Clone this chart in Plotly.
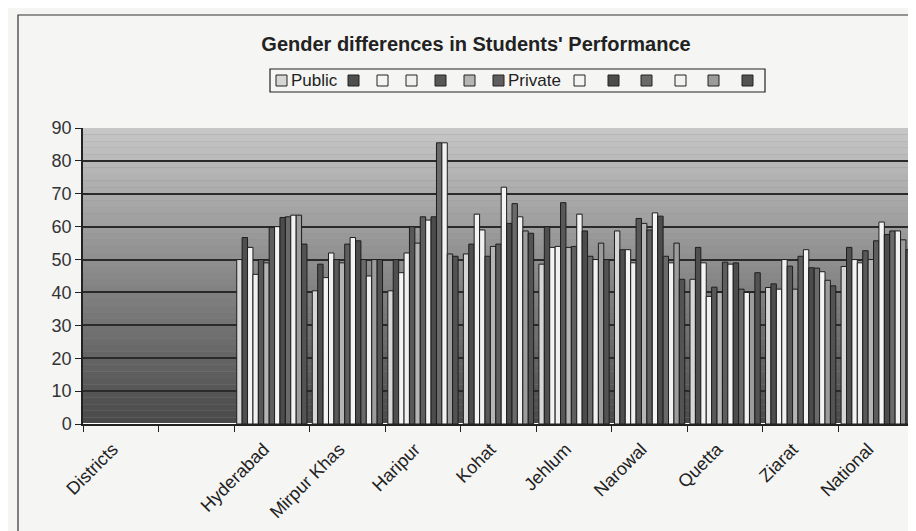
import plotly.graph_objects as go

# ---- data ----
categories = ["Districts", " ", "Hyderabad", "Mirpur Khas", "Haripur", "Kohat",
              "Jehlum", "Narowal", "Quetta", "Ziarat", "National"]
series_names = ["Public", "", "", "", "", "", "Private", "", "", "", "", "", ""]

districts = [None] * 13
blank = [None] * 13
hyderabad = [50, 56.7, 53.7, 45.5, 50, 49, 59.8, 60, 62.8, 63, 63.5, 63.5, 54.7]
mirpur_khas = [40.5, 48.6, 44.5, 52, 50, 49, 54.7, 56.7, 55.7, 50, 45, 50, 50]
haripur = [40.5, 50, 46, 52, 60, 55, 63, 62, 63, 85.5, 85.5, 51.7, 51]
kohat = [51.7, 54.7, 63.8, 59, 51, 54, 54.7, 72, 61, 67, 63, 58.7, 58]
jehlum = [48.6, 60, 53.7, 54, 67.3, 53.7, 54, 63.8, 58.7, 51, 50, 55, 50]
narowal = [58.7, 53, 53, 49, 62.5, 61, 59, 64.2, 63.2, 51, 49, 55, 44]
quetta = [44, 53.7, 49, 38.8, 41.6, 40, 49.2, 48.6, 49, 41, 40, 40, 46]
ziarat = [41.5, 42.6, 41, 50, 48, 41, 51, 53, 47.5, 47.4, 46.3, 43.7, 42]
national = [47.9, 53.7, 50, 49, 52.7, 50, 55.7, 61.4, 57.6, 58.7, 58.7, 56, 53]

rows = [districts, blank, hyderabad, mirpur_khas, haripur, kohat,
        jehlum, narowal, quetta, ziarat, national]

y_ticks = [0, 10, 20, 30, 40, 50, 60, 70, 80, 90]

bar_colors = ["#d6d6d6", "#4f4f4f", "#f4f4f4", "#f0f0f0", "#585858", "#b5b5b5",
              "#5e5e5e", "#f4f4f4", "#4c4c4c", "#6a6a6a", "#f2f2f2", "#9c9c9c", "#535353"]

FONT = "Arial, Liberation Sans, sans-serif"
INK = "#222222"

# plot-area geometry (pixels)
W, H = 916, 531
L, R, T, B = 75, 10, 120, 115
PW, PH = W - L - R, H - T - B


def px_x(px):
    return (px - L) / PW


def px_y(py):
    return (H - B - py) / PH


fig = go.Figure()
for k, name in enumerate(series_names):
    fig.add_trace(go.Bar(
        x=categories,
        y=[r[k] for r in rows],
        name=name,
        marker=dict(color=bar_colors[k], line=dict(color="#1e1e1e", width=1)),
        showlegend=False,
    ))

# gradient background of the plot area (light at top, dark at bottom)
n_bands = 45
top = (198, 198, 198)
bot = (74, 74, 74)
for i in range(n_bands):
    t = i / (n_bands - 1)
    c = tuple(int(round(bot[j] + (top[j] - bot[j]) * t)) for j in range(3))
    fig.add_shape(type="rect", xref="x domain", yref="y domain",
                  x0=0, x1=1, y0=i / n_bands, y1=(i + 1) / n_bands,
                  fillcolor="rgb(%d,%d,%d)" % c, line=dict(width=0), layer="below")

# outer frame of the chart
fig.add_shape(type="rect", xref="paper", yref="paper",
              x0=px_x(10), x1=px_x(912), y0=px_y(524), y1=px_y(7),
              line=dict(color="#333333", width=1.2), fillcolor="rgba(0,0,0,0)")

# custom legend (box, swatches, labels)
leg_top, leg_bot = 61, 84
fig.add_shape(type="rect", xref="paper", yref="paper",
              x0=px_x(262), x1=px_x(757), y0=px_y(leg_bot), y1=px_y(leg_top),
              line=dict(color=INK, width=1.2), fillcolor="rgba(0,0,0,0)")
swatch_left = [268, 340, 369, 398, 427, 456, 485, 566, 600, 633, 667, 700, 734]
sw = 11
cy = (leg_top + leg_bot) / 2
for k, name in enumerate(series_names):
    x0 = swatch_left[k]
    fig.add_shape(type="rect", xref="paper", yref="paper",
                  x0=px_x(x0), x1=px_x(x0 + sw), y0=px_y(cy + sw / 2), y1=px_y(cy - sw / 2),
                  fillcolor=bar_colors[k], line=dict(color=INK, width=1))
    if name:
        fig.add_annotation(xref="paper", yref="paper", x=px_x(x0 + sw + 2), y=px_y(cy),
                           text=name, showarrow=False, xanchor="left", yanchor="middle",
                           font=dict(family=FONT, size=17, color=INK))

fig.update_layout(
    width=W, height=H,
    margin=dict(l=L, r=R, t=T, b=B),
    paper_bgcolor="#f5f5f3",
    plot_bgcolor="#8a8a8a",
    barmode="group",
    bargap=0.07, bargroupgap=0,
    title=dict(text="<b>Gender differences in Students' Performance</b>",
               x=px_x(468), xanchor="center", xref="paper",
               y=1 - 36 / H, yanchor="middle", yref="container",
               font=dict(family=FONT, size=20, color=INK)),
    font=dict(family=FONT, color=INK),
    showlegend=False,
)

fig.update_xaxes(type="category", tickson="boundaries", ticks="outside", ticklen=6,
                 tickcolor=INK, showline=True, linecolor=INK, linewidth=1.5,
                 showgrid=False, tickangle=-45, automargin=False,
                 ticklabelshift=-8, ticklabelstandoff=6,
                 tickfont=dict(family=FONT, size=18, color=INK))
fig.update_yaxes(range=[0, 90], tickvals=y_ticks, ticks="outside", ticklen=6,
                 tickcolor=INK, showline=True, linecolor=INK, linewidth=1.5,
                 showgrid=True, gridcolor="#2a2a2a", gridwidth=1.5, automargin=False,
                 tickfont=dict(family=FONT, size=18, color="#333333"))

fig.write_html("out.html")
